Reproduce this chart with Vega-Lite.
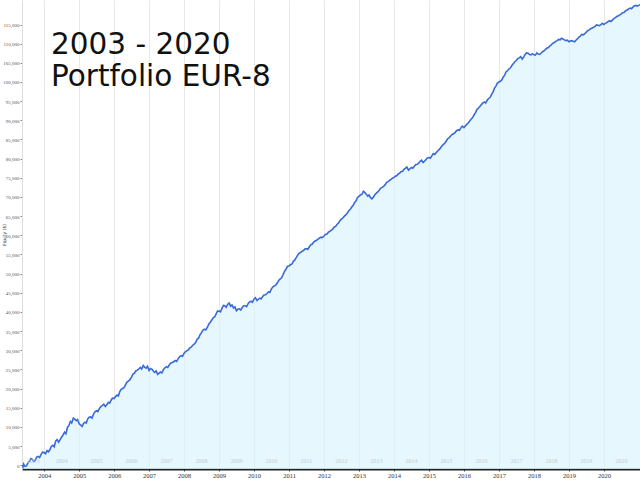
{
  "$schema": "https://vega.github.io/schema/vega-lite/v6.json",
  "width": 618,
  "height": 469,
  "autosize": "none",
  "padding": {"left": 22, "top": 0, "right": 0, "bottom": 11},
  "background": "white",
  "title": {
    "text": ["2003 - 2020", "Portfolio EUR-8"],
    "font": "DejaVu Sans",
    "fontSize": 29.5,
    "fontWeight": "normal",
    "color": "#111111",
    "anchor": "start",
    "frame": "group",
    "baseline": "top",
    "offset": 0,
    "dx": 29,
    "dy": 92,
    "lineHeight": 32
  },
  "config": {"view": {"stroke": null}},
  "datasets": {
    "equity": [
      {"date": "2003-05-15", "v": 0}, {"date": "2003-05-25", "v": -500}, {"date": "2003-06-01", "v": 300}, {"date": "2003-06-15", "v": -300},
      {"date": "2003-07-01", "v": -200}, {"date": "2003-07-15", "v": 600}, {"date": "2003-08-01", "v": 1000}, {"date": "2003-08-15", "v": 1700},
      {"date": "2003-09-01", "v": 1500}, {"date": "2003-09-15", "v": 1000}, {"date": "2003-10-01", "v": 1300}, {"date": "2003-10-15", "v": 2100},
      {"date": "2003-11-01", "v": 2300}, {"date": "2003-11-15", "v": 2000}, {"date": "2003-12-01", "v": 2800}, {"date": "2003-12-15", "v": 3400},
      {"date": "2004-01-01", "v": 3300}, {"date": "2004-01-15", "v": 3000}, {"date": "2004-02-01", "v": 3800}, {"date": "2004-02-15", "v": 3500},
      {"date": "2004-03-01", "v": 4000}, {"date": "2004-03-15", "v": 4900}, {"date": "2004-04-01", "v": 5200}, {"date": "2004-04-15", "v": 4800},
      {"date": "2004-05-01", "v": 6300}, {"date": "2004-05-15", "v": 6700}, {"date": "2004-06-01", "v": 6000}, {"date": "2004-06-15", "v": 6600},
      {"date": "2004-07-01", "v": 7300}, {"date": "2004-07-15", "v": 7800}, {"date": "2004-08-01", "v": 8600}, {"date": "2004-08-15", "v": 8200},
      {"date": "2004-09-01", "v": 9900}, {"date": "2004-09-15", "v": 10300}, {"date": "2004-10-01", "v": 11400}, {"date": "2004-10-15", "v": 11000},
      {"date": "2004-11-01", "v": 12300}, {"date": "2004-11-15", "v": 12000}, {"date": "2004-12-01", "v": 11600}, {"date": "2004-12-15", "v": 11900},
      {"date": "2005-01-01", "v": 10800}, {"date": "2005-01-15", "v": 10500}, {"date": "2005-02-01", "v": 10100}, {"date": "2005-02-15", "v": 10900},
      {"date": "2005-03-01", "v": 11200}, {"date": "2005-03-15", "v": 11000}, {"date": "2005-04-01", "v": 12100}, {"date": "2005-04-15", "v": 12500},
      {"date": "2005-05-01", "v": 12600}, {"date": "2005-05-15", "v": 12300}, {"date": "2005-06-01", "v": 13400}, {"date": "2005-06-15", "v": 13900},
      {"date": "2005-07-01", "v": 14200}, {"date": "2005-07-15", "v": 14000}, {"date": "2005-08-01", "v": 14800}, {"date": "2005-08-15", "v": 15300},
      {"date": "2005-09-01", "v": 15600}, {"date": "2005-09-15", "v": 15900}, {"date": "2005-10-01", "v": 15300}, {"date": "2005-10-15", "v": 15700},
      {"date": "2005-11-01", "v": 16400}, {"date": "2005-11-15", "v": 16200}, {"date": "2005-12-01", "v": 17000}, {"date": "2005-12-15", "v": 17500},
      {"date": "2006-01-01", "v": 17400}, {"date": "2006-01-15", "v": 17900}, {"date": "2006-02-01", "v": 18300}, {"date": "2006-02-15", "v": 18100},
      {"date": "2006-03-01", "v": 19200}, {"date": "2006-03-15", "v": 19800}, {"date": "2006-04-01", "v": 20000}, {"date": "2006-04-15", "v": 20300},
      {"date": "2006-05-01", "v": 21000}, {"date": "2006-05-15", "v": 21700}, {"date": "2006-06-01", "v": 22000}, {"date": "2006-06-15", "v": 22300},
      {"date": "2006-07-01", "v": 23000}, {"date": "2006-07-15", "v": 23700}, {"date": "2006-08-01", "v": 24000}, {"date": "2006-08-15", "v": 24600},
      {"date": "2006-09-01", "v": 24800}, {"date": "2006-09-15", "v": 25100}, {"date": "2006-10-01", "v": 25500}, {"date": "2006-10-15", "v": 25100},
      {"date": "2006-11-01", "v": 26000}, {"date": "2006-11-15", "v": 25600}, {"date": "2006-12-01", "v": 25300}, {"date": "2006-12-15", "v": 25800},
      {"date": "2007-01-01", "v": 24700}, {"date": "2007-01-15", "v": 25200}, {"date": "2007-02-01", "v": 25000}, {"date": "2007-02-15", "v": 24500},
      {"date": "2007-03-01", "v": 24200}, {"date": "2007-03-15", "v": 24600}, {"date": "2007-04-01", "v": 23700}, {"date": "2007-04-15", "v": 24000},
      {"date": "2007-05-01", "v": 24300}, {"date": "2007-05-15", "v": 24100}, {"date": "2007-06-01", "v": 25000}, {"date": "2007-06-15", "v": 25400},
      {"date": "2007-07-01", "v": 25700}, {"date": "2007-07-15", "v": 25500}, {"date": "2007-08-01", "v": 26200}, {"date": "2007-08-15", "v": 26700},
      {"date": "2007-09-01", "v": 26800}, {"date": "2007-09-15", "v": 27000}, {"date": "2007-10-01", "v": 27300}, {"date": "2007-10-15", "v": 27100},
      {"date": "2007-11-01", "v": 27800}, {"date": "2007-11-15", "v": 28300}, {"date": "2007-12-01", "v": 28600}, {"date": "2007-12-15", "v": 28400},
      {"date": "2008-01-01", "v": 29200}, {"date": "2008-01-15", "v": 29600}, {"date": "2008-02-01", "v": 29900}, {"date": "2008-02-15", "v": 30100},
      {"date": "2008-03-01", "v": 30600}, {"date": "2008-03-15", "v": 30800}, {"date": "2008-04-01", "v": 31300}, {"date": "2008-04-15", "v": 31600},
      {"date": "2008-05-01", "v": 32000}, {"date": "2008-05-15", "v": 32800}, {"date": "2008-06-01", "v": 33200}, {"date": "2008-06-15", "v": 34000},
      {"date": "2008-07-01", "v": 34600}, {"date": "2008-07-15", "v": 35200}, {"date": "2008-08-01", "v": 35500}, {"date": "2008-08-15", "v": 35300},
      {"date": "2008-09-01", "v": 36000}, {"date": "2008-09-15", "v": 36800}, {"date": "2008-10-01", "v": 37300}, {"date": "2008-10-15", "v": 37800},
      {"date": "2008-11-01", "v": 38500}, {"date": "2008-11-15", "v": 38700}, {"date": "2008-12-01", "v": 39500}, {"date": "2008-12-15", "v": 40200},
      {"date": "2009-01-01", "v": 40200}, {"date": "2009-01-15", "v": 40000}, {"date": "2009-02-01", "v": 41000}, {"date": "2009-02-15", "v": 41700},
      {"date": "2009-03-01", "v": 41600}, {"date": "2009-03-15", "v": 41200}, {"date": "2009-04-01", "v": 42000}, {"date": "2009-04-15", "v": 42300},
      {"date": "2009-05-01", "v": 41500}, {"date": "2009-05-15", "v": 41800}, {"date": "2009-06-01", "v": 41000}, {"date": "2009-06-15", "v": 41300},
      {"date": "2009-07-01", "v": 40300}, {"date": "2009-07-15", "v": 40700}, {"date": "2009-08-01", "v": 40800}, {"date": "2009-08-15", "v": 40500},
      {"date": "2009-09-01", "v": 41200}, {"date": "2009-09-15", "v": 41600}, {"date": "2009-10-01", "v": 41600}, {"date": "2009-10-15", "v": 41400},
      {"date": "2009-11-01", "v": 42200}, {"date": "2009-11-15", "v": 42600}, {"date": "2009-12-01", "v": 42800}, {"date": "2009-12-15", "v": 42500},
      {"date": "2010-01-01", "v": 43400}, {"date": "2010-01-15", "v": 43700}, {"date": "2010-02-01", "v": 43000}, {"date": "2010-02-15", "v": 43300},
      {"date": "2010-03-01", "v": 43600}, {"date": "2010-03-15", "v": 43400}, {"date": "2010-04-01", "v": 44000}, {"date": "2010-04-15", "v": 44400},
      {"date": "2010-05-01", "v": 44500}, {"date": "2010-05-15", "v": 44800}, {"date": "2010-06-01", "v": 45200}, {"date": "2010-06-15", "v": 45100},
      {"date": "2010-07-01", "v": 46000}, {"date": "2010-07-15", "v": 46500}, {"date": "2010-08-01", "v": 46800}, {"date": "2010-08-15", "v": 47000},
      {"date": "2010-09-01", "v": 47600}, {"date": "2010-09-15", "v": 48200}, {"date": "2010-10-01", "v": 48600}, {"date": "2010-10-15", "v": 48900},
      {"date": "2010-11-01", "v": 49800}, {"date": "2010-11-15", "v": 50600}, {"date": "2010-12-01", "v": 51200}, {"date": "2010-12-15", "v": 51900},
      {"date": "2011-01-01", "v": 52000}, {"date": "2011-01-15", "v": 52300}, {"date": "2011-02-01", "v": 52500}, {"date": "2011-02-15", "v": 53200},
      {"date": "2011-03-01", "v": 53500}, {"date": "2011-03-15", "v": 54100}, {"date": "2011-04-01", "v": 54800}, {"date": "2011-04-15", "v": 55300},
      {"date": "2011-05-01", "v": 55500}, {"date": "2011-05-15", "v": 55800}, {"date": "2011-06-01", "v": 56000}, {"date": "2011-06-15", "v": 56400},
      {"date": "2011-07-01", "v": 56500}, {"date": "2011-07-15", "v": 56300}, {"date": "2011-08-01", "v": 57000}, {"date": "2011-08-15", "v": 57500},
      {"date": "2011-09-01", "v": 57700}, {"date": "2011-09-15", "v": 58200}, {"date": "2011-10-01", "v": 58500}, {"date": "2011-10-15", "v": 58700},
      {"date": "2011-11-01", "v": 59000}, {"date": "2011-11-15", "v": 59300}, {"date": "2011-12-01", "v": 59500}, {"date": "2011-12-15", "v": 59400},
      {"date": "2012-01-01", "v": 59800}, {"date": "2012-01-15", "v": 60200}, {"date": "2012-02-01", "v": 60300}, {"date": "2012-02-15", "v": 60800},
      {"date": "2012-03-01", "v": 61000}, {"date": "2012-03-15", "v": 61300}, {"date": "2012-04-01", "v": 61600}, {"date": "2012-04-15", "v": 62100},
      {"date": "2012-05-01", "v": 62300}, {"date": "2012-05-15", "v": 62800}, {"date": "2012-06-01", "v": 63200}, {"date": "2012-06-15", "v": 63800},
      {"date": "2012-07-01", "v": 64200}, {"date": "2012-07-15", "v": 64500}, {"date": "2012-08-01", "v": 65000}, {"date": "2012-08-15", "v": 65300},
      {"date": "2012-09-01", "v": 65800}, {"date": "2012-09-15", "v": 66400}, {"date": "2012-10-01", "v": 66800}, {"date": "2012-10-15", "v": 67300},
      {"date": "2012-11-01", "v": 67800}, {"date": "2012-11-15", "v": 68500}, {"date": "2012-12-01", "v": 69000}, {"date": "2012-12-15", "v": 69800},
      {"date": "2013-01-01", "v": 70200}, {"date": "2013-01-15", "v": 70500}, {"date": "2013-02-01", "v": 70700}, {"date": "2013-02-15", "v": 71500},
      {"date": "2013-03-01", "v": 71200}, {"date": "2013-03-15", "v": 70800}, {"date": "2013-04-01", "v": 70200}, {"date": "2013-04-15", "v": 70500},
      {"date": "2013-05-01", "v": 69800}, {"date": "2013-05-15", "v": 69500}, {"date": "2013-06-01", "v": 70000}, {"date": "2013-06-15", "v": 70600},
      {"date": "2013-07-01", "v": 71000}, {"date": "2013-07-15", "v": 71300}, {"date": "2013-08-01", "v": 71800}, {"date": "2013-08-15", "v": 72300},
      {"date": "2013-09-01", "v": 72500}, {"date": "2013-09-15", "v": 72800}, {"date": "2013-10-01", "v": 73200}, {"date": "2013-10-15", "v": 73800},
      {"date": "2013-11-01", "v": 74000}, {"date": "2013-11-15", "v": 74300}, {"date": "2013-12-01", "v": 74600}, {"date": "2013-12-15", "v": 74900},
      {"date": "2014-01-01", "v": 75100}, {"date": "2014-01-15", "v": 75400}, {"date": "2014-02-01", "v": 75600}, {"date": "2014-02-15", "v": 76000},
      {"date": "2014-03-01", "v": 76200}, {"date": "2014-03-15", "v": 76600}, {"date": "2014-04-01", "v": 76700}, {"date": "2014-04-15", "v": 77200},
      {"date": "2014-05-01", "v": 77500}, {"date": "2014-05-15", "v": 77800}, {"date": "2014-06-01", "v": 77000}, {"date": "2014-06-15", "v": 77300},
      {"date": "2014-07-01", "v": 77700}, {"date": "2014-07-15", "v": 77500}, {"date": "2014-08-01", "v": 78000}, {"date": "2014-08-15", "v": 78400},
      {"date": "2014-09-01", "v": 78500}, {"date": "2014-09-15", "v": 78800}, {"date": "2014-10-01", "v": 79300}, {"date": "2014-10-15", "v": 79600},
      {"date": "2014-11-01", "v": 79000}, {"date": "2014-11-15", "v": 79300}, {"date": "2014-12-01", "v": 79800}, {"date": "2014-12-15", "v": 80200},
      {"date": "2015-01-01", "v": 80300}, {"date": "2015-01-15", "v": 80100}, {"date": "2015-02-01", "v": 80800}, {"date": "2015-02-15", "v": 81300},
      {"date": "2015-03-01", "v": 81100}, {"date": "2015-03-15", "v": 81500}, {"date": "2015-04-01", "v": 82000}, {"date": "2015-04-15", "v": 82300},
      {"date": "2015-05-01", "v": 82800}, {"date": "2015-05-15", "v": 83300}, {"date": "2015-06-01", "v": 83700}, {"date": "2015-06-15", "v": 84000},
      {"date": "2015-07-01", "v": 84600}, {"date": "2015-07-15", "v": 85200}, {"date": "2015-08-01", "v": 85500}, {"date": "2015-08-15", "v": 85900},
      {"date": "2015-09-01", "v": 86300}, {"date": "2015-09-15", "v": 86500}, {"date": "2015-10-01", "v": 86800}, {"date": "2015-10-15", "v": 87300},
      {"date": "2015-11-01", "v": 87500}, {"date": "2015-11-15", "v": 87400}, {"date": "2015-12-01", "v": 88100}, {"date": "2015-12-15", "v": 88500},
      {"date": "2016-01-01", "v": 88100}, {"date": "2016-01-15", "v": 88500}, {"date": "2016-02-01", "v": 89000}, {"date": "2016-02-15", "v": 89300},
      {"date": "2016-03-01", "v": 89800}, {"date": "2016-03-15", "v": 90300}, {"date": "2016-04-01", "v": 90700}, {"date": "2016-04-15", "v": 91400},
      {"date": "2016-05-01", "v": 92000}, {"date": "2016-05-15", "v": 92800}, {"date": "2016-06-01", "v": 93200}, {"date": "2016-06-15", "v": 93600},
      {"date": "2016-07-01", "v": 94100}, {"date": "2016-07-15", "v": 94500}, {"date": "2016-08-01", "v": 94800}, {"date": "2016-08-15", "v": 94500},
      {"date": "2016-09-01", "v": 95300}, {"date": "2016-09-15", "v": 95700}, {"date": "2016-10-01", "v": 96000}, {"date": "2016-10-15", "v": 96700},
      {"date": "2016-11-01", "v": 97500}, {"date": "2016-11-15", "v": 98400}, {"date": "2016-12-01", "v": 99000}, {"date": "2016-12-15", "v": 99700},
      {"date": "2017-01-01", "v": 100000}, {"date": "2017-01-15", "v": 100200}, {"date": "2017-02-01", "v": 100600}, {"date": "2017-02-15", "v": 101300},
      {"date": "2017-03-01", "v": 101800}, {"date": "2017-03-15", "v": 102600}, {"date": "2017-04-01", "v": 103000}, {"date": "2017-04-15", "v": 103400},
      {"date": "2017-05-01", "v": 103700}, {"date": "2017-05-15", "v": 104300}, {"date": "2017-06-01", "v": 104800}, {"date": "2017-06-15", "v": 105300},
      {"date": "2017-07-01", "v": 105600}, {"date": "2017-07-15", "v": 106100}, {"date": "2017-08-01", "v": 106300}, {"date": "2017-08-15", "v": 106600},
      {"date": "2017-09-01", "v": 106000}, {"date": "2017-09-15", "v": 106500}, {"date": "2017-10-01", "v": 107200}, {"date": "2017-10-15", "v": 107600},
      {"date": "2017-11-01", "v": 107500}, {"date": "2017-11-15", "v": 107200}, {"date": "2017-12-01", "v": 107100}, {"date": "2017-12-15", "v": 107400},
      {"date": "2018-01-01", "v": 107100}, {"date": "2018-01-15", "v": 107000}, {"date": "2018-02-01", "v": 107600}, {"date": "2018-02-15", "v": 107300},
      {"date": "2018-03-01", "v": 107200}, {"date": "2018-03-15", "v": 107500}, {"date": "2018-04-01", "v": 107900}, {"date": "2018-04-15", "v": 108100},
      {"date": "2018-05-01", "v": 108500}, {"date": "2018-05-15", "v": 108800}, {"date": "2018-06-01", "v": 109000}, {"date": "2018-06-15", "v": 109400},
      {"date": "2018-07-01", "v": 109700}, {"date": "2018-07-15", "v": 110100}, {"date": "2018-08-01", "v": 110300}, {"date": "2018-08-15", "v": 110600},
      {"date": "2018-09-01", "v": 110800}, {"date": "2018-09-15", "v": 111100}, {"date": "2018-10-01", "v": 111000}, {"date": "2018-10-15", "v": 111400},
      {"date": "2018-11-01", "v": 111200}, {"date": "2018-11-15", "v": 111000}, {"date": "2018-12-01", "v": 110800}, {"date": "2018-12-15", "v": 110900},
      {"date": "2019-01-01", "v": 110500}, {"date": "2019-01-15", "v": 110700}, {"date": "2019-02-01", "v": 110800}, {"date": "2019-02-15", "v": 110600},
      {"date": "2019-03-01", "v": 110500}, {"date": "2019-03-15", "v": 110900}, {"date": "2019-04-01", "v": 111300}, {"date": "2019-04-15", "v": 111700},
      {"date": "2019-05-01", "v": 112000}, {"date": "2019-05-15", "v": 112400}, {"date": "2019-06-01", "v": 112300}, {"date": "2019-06-15", "v": 112600},
      {"date": "2019-07-01", "v": 113000}, {"date": "2019-07-15", "v": 113400}, {"date": "2019-08-01", "v": 113600}, {"date": "2019-08-15", "v": 113900},
      {"date": "2019-09-01", "v": 114100}, {"date": "2019-09-15", "v": 114300}, {"date": "2019-10-01", "v": 114500}, {"date": "2019-10-15", "v": 114900},
      {"date": "2019-11-01", "v": 114800}, {"date": "2019-11-15", "v": 114700}, {"date": "2019-12-01", "v": 115000}, {"date": "2019-12-15", "v": 115300},
      {"date": "2020-01-01", "v": 115000}, {"date": "2020-01-15", "v": 115300}, {"date": "2020-02-01", "v": 115500}, {"date": "2020-02-15", "v": 115800},
      {"date": "2020-03-01", "v": 116000}, {"date": "2020-03-15", "v": 115800}, {"date": "2020-04-01", "v": 116200}, {"date": "2020-04-15", "v": 116600},
      {"date": "2020-05-01", "v": 116800}, {"date": "2020-05-15", "v": 117100}, {"date": "2020-06-01", "v": 117300}, {"date": "2020-06-15", "v": 117500},
      {"date": "2020-07-01", "v": 117800}, {"date": "2020-07-15", "v": 118100}, {"date": "2020-08-01", "v": 118200}, {"date": "2020-08-15", "v": 118600},
      {"date": "2020-09-01", "v": 118800}, {"date": "2020-09-15", "v": 119100}, {"date": "2020-10-01", "v": 119300}, {"date": "2020-10-15", "v": 119100},
      {"date": "2020-11-01", "v": 119600}, {"date": "2020-11-15", "v": 119900}, {"date": "2020-12-01", "v": 120000}, {"date": "2020-12-15", "v": 119800},
      {"date": "2021-01-12", "v": 120200}
    ],
    "years": [
      {"date": "2003-09-10", "label": "2003"},
      {"date": "2004-07-02", "label": "2004"},
      {"date": "2005-07-02", "label": "2005"},
      {"date": "2006-07-02", "label": "2006"},
      {"date": "2007-07-02", "label": "2007"},
      {"date": "2008-07-02", "label": "2008"},
      {"date": "2009-07-02", "label": "2009"},
      {"date": "2010-07-02", "label": "2010"},
      {"date": "2011-07-02", "label": "2011"},
      {"date": "2012-07-02", "label": "2012"},
      {"date": "2013-07-02", "label": "2013"},
      {"date": "2014-07-02", "label": "2014"},
      {"date": "2015-07-02", "label": "2015"},
      {"date": "2016-07-02", "label": "2016"},
      {"date": "2017-07-02", "label": "2017"},
      {"date": "2018-07-02", "label": "2018"},
      {"date": "2019-07-02", "label": "2019"},
      {"date": "2020-07-02", "label": "2020"}
    ]
  },
  "layer": [
    {
      "data": {"name": "equity"},
      "mark": {"type": "area", "color": "#dcf3fe", "line": {"color": "#3a6ad6", "strokeWidth": 1.6}, "clip": true},
      "encoding": {
        "x": {
          "field": "date",
          "type": "temporal",
          "scale": {"domain": ["2003-05-15", "2021-01-12"]},
          "axis": {
            "title": null,
            "format": "%Y",
            "values": [{"year": 2004}, {"year": 2005}, {"year": 2006}, {"year": 2007}, {"year": 2008}, {"year": 2009}, {"year": 2010}, {"year": 2011}, {"year": 2012}, {"year": 2013}, {"year": 2014}, {"year": 2015}, {"year": 2016}, {"year": 2017}, {"year": 2018}, {"year": 2019}, {"year": 2020}],
            "tickCount": 50,
            "labelOverlap": false,
            "grid": true,
            "gridColor": "#e8e8e8",
            "gridWidth": 1,
            "domainColor": "#222222",
            "domainWidth": 2,
            "tickColor": "#444444",
            "tickSize": 2,
            "labelFont": "Liberation Sans Narrow",
            "labelFontSize": 6.5,
            "labelColor": "#333333",
            "labelPadding": 1,
            "labelFlush": false
          }
        },
        "y": {
          "field": "v",
          "type": "quantitative",
          "scale": {"domain": [-1000, 121400], "nice": false, "zero": false},
          "axis": {
            "title": "Equity ($)",
            "titleFontSize": 4.5,
            "titleFont": "DejaVu Sans",
            "titleFontWeight": "normal",
            "titleColor": "#444444",
            "titleX": -16,
            "values": [0, 5000, 10000, 15000, 20000, 25000, 30000, 35000, 40000, 45000, 50000, 55000, 60000, 65000, 70000, 75000, 80000, 85000, 90000, 95000, 100000, 105000, 110000, 115000],
            "tickCount": 50,
            "labelOverlap": false,
            "format": ",d",
            "grid": false,
            "domainColor": "#dddddd",
            "tickColor": "#888888",
            "tickSize": 2,
            "labelFont": "Liberation Sans Narrow",
            "labelFontSize": 5,
            "labelColor": "#555555",
            "labelPadding": 1
          }
        },
        "y2": {"datum": -1000}
      }
    },
    {
      "data": {"name": "years"},
      "mark": {"type": "text", "fontSize": 6, "font": "Liberation Sans Narrow", "color": "#c3ccd2", "baseline": "middle"},
      "encoding": {
        "x": {"field": "date", "type": "temporal"},
        "y": {"datum": 1200},
        "text": {"field": "label"}
      }
    }
  ]
}
